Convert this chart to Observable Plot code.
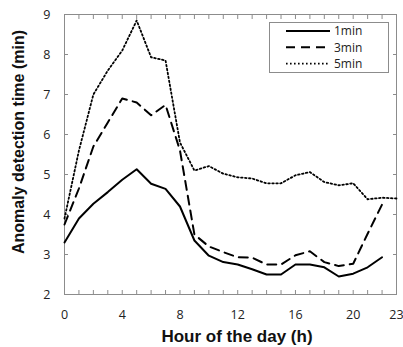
<!DOCTYPE html>
<html>
<head>
<meta charset="utf-8">
<script src="https://cdn.jsdelivr.net/npm/d3@7"></script>
<script src="https://cdn.jsdelivr.net/npm/@observablehq/plot@0.6"></script>
<style>
  body { margin: 0; background: white; }
  #chart svg { display: block; }
</style>
</head>
<body>
<div id="chart"></div>
<script>
const seriesNames = ["1min", "3min", "5min"];
const hours = d3.range(0, 24);
const min1 = [3.3, 3.9, 4.27, 4.56, 4.87, 5.13, 4.77, 4.64, 4.2, 3.35, 2.97, 2.81, 2.75, 2.63, 2.5, 2.5, 2.75, 2.75, 2.68, 2.45, 2.52, 2.68, 2.93];
const min3 = [3.75, 4.65, 5.7, 6.3, 6.9, 6.8, 6.48, 6.74, 5.6, 3.5, 3.2, 3.06, 2.93, 2.92, 2.75, 2.75, 2.98, 3.08, 2.81, 2.71, 2.77, 3.52, 4.25];
const min5 = [3.9, 5.6, 7.0, 7.6, 8.1, 8.85, 7.93, 7.85, 5.8, 5.1, 5.21, 5.02, 4.93, 4.9, 4.78, 4.78, 4.98, 5.06, 4.81, 4.73, 4.78, 4.38, 4.42, 4.4];
const xTickLabels = [0, 4, 8, 12, 16, 20, 23];
const yTickLabels = [2, 3, 4, 5, 6, 7, 8, 9];
const xTitle = "Hour of the day (h)";
const yTitle = "Anomaly detection time (min)";

const styles = {
  "1min": {strokeDasharray: null, strokeWidth: 2},
  "3min": {strokeDasharray: "9,6", strokeWidth: 2},
  "5min": {strokeDasharray: "1.6,2.4", strokeWidth: 1.8}
};
const toRows = (vals) => vals.map((v, i) => ({hour: hours[i], value: v}));
const seriesData = {"1min": toRows(min1), "3min": toRows(min3), "5min": toRows(min5)};

const tickFont = "'Open Sans', sans-serif";
const titleFont = "'Liberation Sans', Arial, sans-serif";
const frameColor = "#8c8c8c";

const plot = Plot.plot({
  width: 403,
  height: 347,
  marginLeft: 64,
  marginRight: 7,
  marginTop: 14,
  marginBottom: 53,
  style: {fontFamily: tickFont, fontSize: "12.5px", color: "#222", background: "white"},
  x: {domain: [0, 23]},
  y: {domain: [2, 9]},
  marks: [
    Plot.frame({stroke: frameColor}),
    // inward ticks
    Plot.axisX(hours, {anchor: "bottom", tickSize: -4, text: null, stroke: frameColor, label: null}),
    Plot.axisX(hours, {anchor: "top", tickSize: -4, text: null, stroke: frameColor, label: null}),
    Plot.axisY(yTickLabels, {anchor: "left", tickSize: -4, text: null, stroke: frameColor, label: null}),
    Plot.axisY(yTickLabels, {anchor: "right", tickSize: -4, text: null, stroke: frameColor, label: null}),
    // tick labels
    Plot.axisX(xTickLabels, {anchor: "bottom", tickSize: 0, tickPadding: 16, fill: "#222", label: null}),
    Plot.axisY(yTickLabels, {anchor: "left", tickSize: 0, tickPadding: 14, fill: "#222", label: null}),
    ...seriesNames.map(name => Plot.line(seriesData[name], {
      x: "hour", y: "value", stroke: "black",
      strokeWidth: styles[name].strokeWidth,
      strokeDasharray: styles[name].strokeDasharray
    }))
  ]
});

document.getElementById("chart").appendChild(plot);

const svg = d3.select(plot);

// Axis titles
svg.append("text")
  .attr("x", 237).attr("y", 342)
  .attr("text-anchor", "middle")
  .attr("font-family", titleFont).attr("font-weight", "bold").attr("font-size", "17px")
  .attr("fill", "#111")
  .text(xTitle);
svg.append("text")
  .attr("transform", "translate(24,142) rotate(-90)")
  .attr("text-anchor", "middle")
  .attr("font-family", titleFont).attr("font-weight", "bold").attr("font-size", "16px")
  .attr("fill", "#111")
  .text(yTitle);

// Legend inside plot area (top right)
const lg = svg.append("g").attr("class", "legend");
lg.append("rect").attr("x", 269.5).attr("y", 22.5).attr("width", 119).attr("height", 50)
  .attr("fill", "white").attr("stroke", frameColor);
seriesNames.forEach((name, i) => {
  const y = 31 + i * 16.3;
  lg.append("line").attr("x1", 286).attr("x2", 330).attr("y1", y).attr("y2", y)
    .attr("stroke", "black").attr("stroke-width", styles[name].strokeWidth)
    .attr("stroke-dasharray", styles[name].strokeDasharray);
  lg.append("text").attr("x", 334).attr("y", y).attr("dy", "0.35em")
    .attr("text-anchor", "start")
    .attr("font-family", tickFont).attr("font-size", "12px").attr("fill", "#222")
    .text(name);
});
</script>
</body>
</html>
